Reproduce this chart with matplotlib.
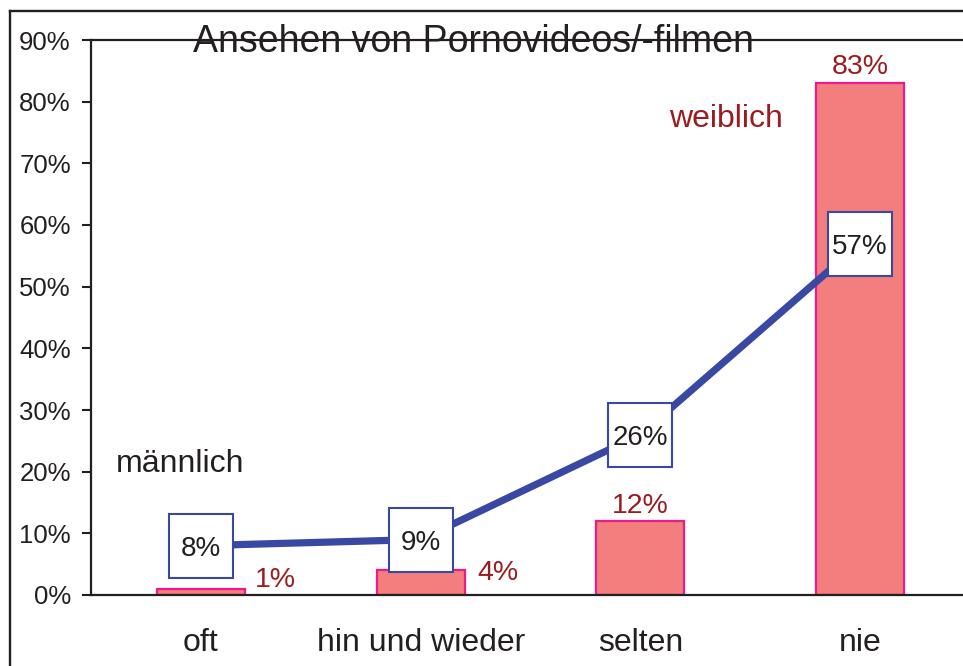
import matplotlib
matplotlib.use("Agg")
import matplotlib.pyplot as plt
from matplotlib.lines import Line2D

categories = ["oft", "hin und wieder", "selten", "nie"]
weiblich = [1, 4, 12, 83]
maennlich = [8, 9, 26, 57]
y_ticks = [0, 10, 20, 30, 40, 50, 60, 70, 80, 90]
title = "Ansehen von Pornovideos/-filmen"

plt.rcParams['font.family'] = ['Liberation Sans', 'DejaVu Sans']

W, H = 963, 666
fig = plt.figure(figsize=(W / 100, H / 100), dpi=100)
ax = fig.add_axes([91 / W, 71 / H, (970 - 91) / W, (595 - 40) / H])

bar_face = '#F27E7E'
bar_edge = '#EC1A8C'
red_text = '#9B1C20'
blue = '#3949A3'
black = '#231F20'

x = list(range(len(categories)))
ax.bar(x, weiblich, width=0.4, color=bar_face, edgecolor=bar_edge, linewidth=1.6, zorder=2)

ax.plot(x, maennlich, color=blue, linewidth=5.2, zorder=3, solid_capstyle='butt')
ax.plot(x, maennlich, linestyle='none', marker='s', markersize=46.5,
        markerfacecolor='white', markeredgecolor=blue, markeredgewidth=1.5, zorder=4)
for xi, v in zip(x, maennlich):
    ax.annotate(f"{v}%", (xi, v), xytext=(0, -7.2), textcoords='offset points',
                ha='center', va='baseline', fontsize=20, color=black, zorder=5)

# value labels for weiblich (layout offsets: dx in category units, dy in %)
label_offsets = [(0.34, 0.3), (0.35, -1.6), (0.0, 1.3), (0.0, 1.5)]
for xi, v, (dx, dy) in zip(x, weiblich, label_offsets):
    ax.text(xi + dx, v + dy, f"{v}%", ha='center', va='baseline',
            fontsize=20.5, color=red_text, zorder=5)

ax.text(-0.095, 19.9, "männlich", ha='center', va='baseline', fontsize=23, color=black)
ax.text(2.39, 75.9, "weiblich", ha='center', va='baseline', fontsize=23, color=red_text)

ax.set_xlim(-0.5, 3.5)
ax.set_ylim(0, 90)
ax.set_yticks(y_ticks)
ax.set_yticklabels([f"{t}%" for t in y_ticks], fontsize=18.5, color=black)
ax.set_xticks(x)
ax.set_xticklabels(categories, fontsize=23, color=black)
ax.tick_params(axis='x', length=0, pad=24)
ax.tick_params(axis='y', direction='out', length=6.5, width=1.5, pad=8, colors=black)

for s in ['left', 'top', 'bottom']:
    ax.spines[s].set_linewidth(1.6)
    ax.spines[s].set_color(black)
ax.spines['right'].set_visible(False)

fig.text(473 / W, 1 - 52 / H, title, ha='center', va='baseline', fontsize=27, color=black)

# figure border
fig.add_artist(Line2D([10 / W, 10 / W], [0, 1 - 11 / H], transform=fig.transFigure,
                      color=black, linewidth=1.7))
fig.add_artist(Line2D([10 / W, 1], [1 - 11 / H, 1 - 11 / H], transform=fig.transFigure,
                      color=black, linewidth=1.7))

fig.savefig("out.png", dpi=100)
